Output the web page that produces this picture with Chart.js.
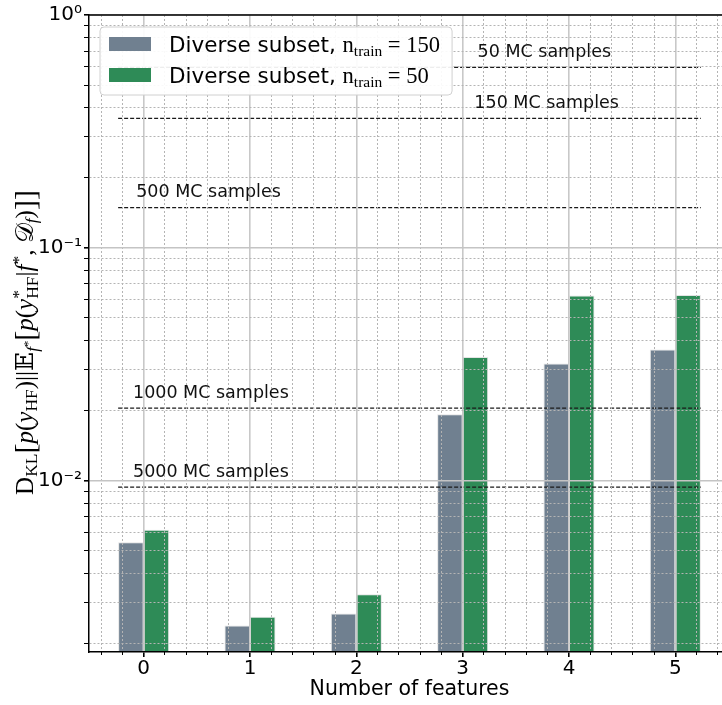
<!DOCTYPE html>
<html>
<head>
<meta charset="utf-8">
<script src="https://cdn.jsdelivr.net/npm/chart.js@4.4.1/dist/chart.umd.min.js"></script>
<style>
  html, body { margin: 0; padding: 0; background: #fff; overflow: hidden; }
  #wrap { position: absolute; left: 0; top: 0; width: 740px; height: 705px; }
</style>
</head>
<body>
<div id="wrap"><canvas id="chart" width="740" height="705"></canvas></div>
<script>
// --- data ---
const features = [0, 1, 2, 3, 4, 5];
const nTrain = [150, 50];
const klTrain150 = [0.00544, 0.00239, 0.00269, 0.0193, 0.0319, 0.0366];
const klTrain50 = [0.00616, 0.00261, 0.00326, 0.0340, 0.0624, 0.0627];
const seriesColors = ['#708090', '#2e8b57'];

const mcSamples = [50, 150, 500, 1000, 5000];
const mcLevels = [0.596, 0.360, 0.149, 0.0205, 0.0094];
const mcLabelX = [3.14, 3.11, -0.07, -0.10, -0.10];
const mcLineSpan = [-0.24, 5.24];

const xRange = [-0.514, 5.514];
const xMinorStep = 0.2;
const yRange = [0.00184, 1];
const yMajorTicks = [0.01, 0.1, 1];
const yTickLabels = ['10⁻²', '10⁻¹', '10⁰'];
const yMinorMultipliers = [2, 3, 4, 5, 6, 7, 8, 9];

// y label: D_KL[p(y_HF)||E_f*[p(y*_HF|f*, D_f)]]
const yTitleRuns = [
  {t: 'D'}, {t: 'KL', k: 0.7, dy: 0.15},
  {t: '[', k: 1.2, dy: 0.06},
  {t: 'p', i: 1}, {t: '('}, {t: 'y', i: 1}, {t: 'HF', k: 0.7, dy: 0.15}, {t: ')'},
  {t: '||'},
  {t: '𝔼'}, {t: 'f', i: 1, k: 0.7, dy: 0.18}, {t: '*', k: 0.5, dy: -0.05},
  {t: '[', k: 1.2, dy: 0.06},
  {t: 'p', i: 1}, {t: '('}, {t: 'y', i: 1}, {t: '*', k: 0.7, dy: -0.35}, {t: 'HF', k: 0.7, dy: 0.18, back: 1},
  {t: '|'}, {t: 'f', i: 1}, {t: '*', k: 0.7, dy: -0.35}, {t: ', '},
  {t: '𝒟'}, {t: 'f', i: 1, k: 0.7, dy: 0.15},
  {t: ')'}, {t: ']', k: 1.2, dy: 0.06}, {t: ']', k: 1.2, dy: 0.06}
];

const isInt = v => Math.abs(v - Math.round(v)) < 1e-6;
const isDecade = v => isInt(Math.log10(v));

const xMinorTicks = [];
for (let v = Math.ceil(xRange[0] / xMinorStep) * xMinorStep; v <= xRange[1]; v += xMinorStep) {
  const r = Math.round(v * 10) / 10;
  if (!isInt(r)) xMinorTicks.push(r);
}

const yTicks = [];
[yMajorTicks[0] / 10, ...yMajorTicks].forEach(d => {
  [1, ...yMinorMultipliers].forEach(m => {
    const v = +(d * m).toPrecision(6);
    if (v >= yRange[0] && v <= yRange[1]) yTicks.push(v);
  });
});

const SERIF = '"Liberation Serif", "DejaVu Serif", "DejaVu Sans", serif';
const SANS = '"DejaVu Sans", sans-serif';

function layoutRuns(ctx, runs, base) {
  let x = 0, lastStart = 0, lastEnd = 0;
  const items = [];
  runs.forEach(r => {
    const size = base * (r.k || 1);
    const font = (r.i ? 'italic ' : '') + size + 'px ' + (r.sans ? SANS : SERIF);
    ctx.font = font;
    const w = ctx.measureText(r.t).width;
    const sx = r.back ? lastStart : x;
    items.push({t: r.t, font, x: sx, dy: (r.dy || 0) * base});
    if (r.back) x = Math.max(lastEnd, sx + w);
    else { lastStart = sx; x = sx + w; }
    lastEnd = x;
  });
  return {items, width: x};
}

function drawRuns(ctx, lay, x0, y0) {
  ctx.textBaseline = 'alphabetic';
  ctx.textAlign = 'left';
  lay.items.forEach(it => {
    ctx.font = it.font;
    ctx.fillText(it.t, x0 + it.x, y0 + it.dy);
  });
}

const overlay = {
  id: 'overlay',
  afterDraw(chart) {
    const {ctx, chartArea: a} = chart;
    const x = chart.scales.x, y = chart.scales.y;
    ctx.save();

    // top frame
    ctx.strokeStyle = '#000';
    ctx.lineWidth = 1.5;
    ctx.beginPath();
    ctx.moveTo(a.left, a.top);
    ctx.lineTo(a.right, a.top);
    ctx.stroke();

    // MC sample labels
    ctx.fillStyle = '#111';
    ctx.font = '17.5px ' + SANS;
    ctx.textBaseline = 'alphabetic';
    ctx.textAlign = 'left';
    mcLevels.forEach((v, i) => {
      ctx.fillText(mcSamples[i] + ' MC samples', x.getPixelForValue(mcLabelX[i]), y.getPixelForValue(v) - 10.5);
    });

    // legend
    const bars = chart.data.datasets.filter(d => d.type === 'bar');
    const rows = bars.map(d => layoutRuns(ctx, [
      {t: 'Diverse subset, ', sans: 1},
      {t: 'n', k: 1.05}, {t: 'train', k: 0.72, dy: 0.22}, {t: ' = ' + d.nTrain, k: 1.05}
    ], 21.5));
    const bx = a.left + 11, by = a.top + 12;
    const textX = bx + 69;
    const bw = Math.max(...rows.map(r => r.width)) + 69 + 12;
    const bh = 68;
    ctx.fillStyle = 'rgba(255,255,255,0.92)';
    ctx.strokeStyle = '#d0d0d0';
    ctx.lineWidth = 1;
    ctx.beginPath();
    ctx.roundRect(bx, by, bw, bh, 4);
    ctx.fill();
    ctx.stroke();
    bars.forEach((d, i) => {
      const cy = by + 17 + i * 31;
      ctx.fillStyle = d.backgroundColor;
      ctx.fillRect(bx + 9, cy - 7, 42, 14);
      ctx.fillStyle = '#000';
      drawRuns(ctx, rows[i], textX, cy + 7.5);
    });

    // y axis title (rotated rich text), sized to span ~305px like the reference
    const probe = layoutRuns(ctx, yTitleRuns, 20);
    const lay = layoutRuns(ctx, yTitleRuns, 20 * 305 / probe.width);
    ctx.translate(33, (a.top + a.bottom) / 2 + 9);
    ctx.rotate(-Math.PI / 2);
    ctx.fillStyle = '#000';
    drawRuns(ctx, lay, -lay.width / 2, 0);

    ctx.restore();
  }
};

Chart.defaults.font.family = 'DejaVu Sans';
Chart.defaults.color = '#000';

const datasets = [
  ...mcLevels.map((v, i) => ({
    type: 'line',
    label: mcSamples[i] + ' MC samples',
    xAxisID: 'x',
    yAxisID: 'y',
    data: mcLineSpan.map(px => ({x: px, y: v})),
    borderColor: '#1a1a1a',
    borderWidth: 1.3,
    borderDash: [4, 2],
    pointRadius: 0,
    fill: false,
    order: 0
  })),
  ...[klTrain150, klTrain50].map((vals, i) => ({
    type: 'bar',
    label: 'Diverse subset, n_train = ' + nTrain[i],
    nTrain: nTrain[i],
    xAxisID: 'x',
    yAxisID: 'y',
    data: features.map((f, j) => ({x: f, y: vals[j]})),
    backgroundColor: seriesColors[i],
    borderColor: 'rgba(225,225,225,0.9)',
    borderWidth: 1,
    categoryPercentage: 0.48,
    barPercentage: 1,
    order: 2
  }))
];

new Chart(document.getElementById('chart'), {
  type: 'bar',
  data: {datasets},
  plugins: [overlay],
  options: {
    responsive: false,
    devicePixelRatio: 1,
    animation: false,
    events: [],
    layout: {padding: {top: 15, right: 10, left: 0, bottom: 0}},
    plugins: {legend: {display: false}, tooltip: {enabled: false}},
    scales: {
      x: {
        type: 'linear', position: 'bottom', weight: 1,
        min: xRange[0], max: xRange[1], offset: false,
        afterBuildTicks: s => { s.ticks = features.map(v => ({value: v})); },
        afterFit: s => { s.height = 53; },
        ticks: {autoSkip: false, maxRotation: 0, padding: 0, font: {size: 20}, callback: v => String(v)},
        grid: {z: 1, offset: false, color: '#c8c8c8', lineWidth: 1.6, tickLength: 5, tickColor: '#000'},
        border: {color: '#000', width: 1.5, z: 2},
        title: {display: true, text: 'Number of features', font: {size: 20.5}, padding: {top: 0, bottom: 3}}
      },
      xMinor: {
        type: 'linear', axis: 'x', position: 'bottom', weight: 0,
        min: xRange[0], max: xRange[1], offset: false,
        afterBuildTicks: s => { s.ticks = xMinorTicks.map(v => ({value: v})); },
        afterFit: s => { s.height = 0; },
        ticks: {display: false, autoSkip: false},
        grid: {z: 1, offset: false, color: '#b4b4b4', lineWidth: 1, tickLength: 3, tickColor: '#000'},
        border: {display: false, dash: [2, 2]}
      },
      y: {
        type: 'logarithmic', position: 'left',
        min: yRange[0], max: yRange[1],
        afterBuildTicks: s => { s.ticks = yTicks.map(v => ({value: v})); },
        afterFit: s => { s.width = 89; },
        ticks: {
          autoSkip: false, padding: 2, font: {size: 20},
          callback: v => {
            const k = yMajorTicks.findIndex(t => Math.abs(t - v) / t < 1e-6);
            return k >= 0 ? yTickLabels[k] : '';
          }
        },
        grid: {
          z: 1,
          color: c => (c.tick && isDecade(c.tick.value)) ? '#c4c4c4' : '#b4b4b4',
          lineWidth: c => (c.tick && isDecade(c.tick.value)) ? 1.6 : 1,
          tickLength: 5, tickColor: '#000'
        },
        border: {
          color: '#000', width: 1.5, z: 2,
          dash: c => (c.tick && !isDecade(c.tick.value)) ? [2, 2] : []
        }
      }
    }
  }
});
</script>
</body>
</html>
